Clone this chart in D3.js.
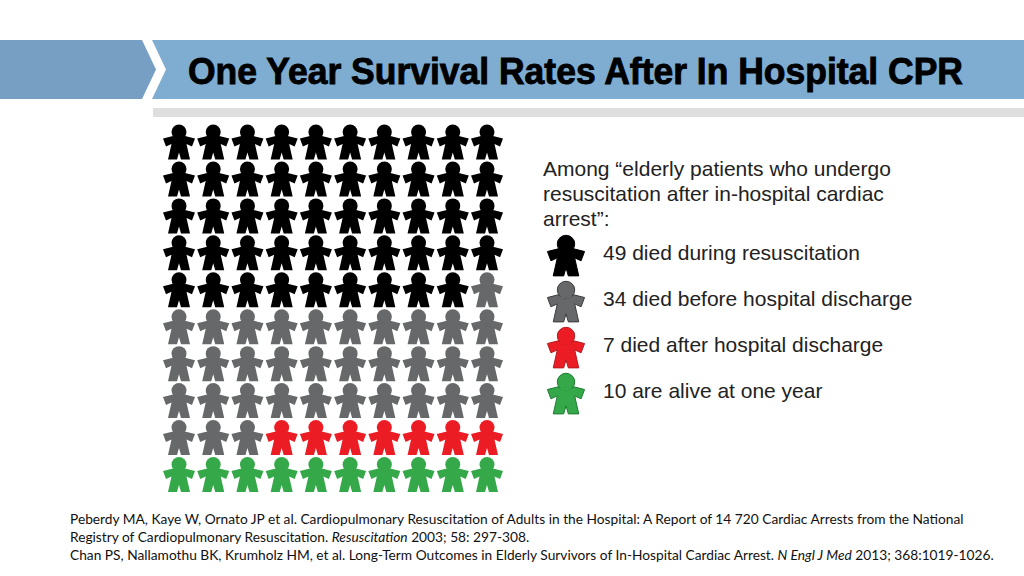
<!DOCTYPE html>
<html><head><meta charset="utf-8">
<script src="https://cdn.jsdelivr.net/npm/d3@7"></script>
<style>html,body{margin:0;padding:0;background:#fff}svg{display:block}</style></head>
<body><svg id="c" width="1024" height="576"></svg>
<script>
const titleText = "One Year Survival Rates After In Hospital CPR";
const categories = ["died during resuscitation","died before hospital discharge","died after hospital discharge","are alive at one year"];
const counts = [49,34,7,10];
const colors = ["#000000","#666869","#ec1c24","#35a84a"];
const strokes = ["#000000","#3c3c3c","#b01c20","#1f7a34"];
const introLines = ["Among “elderly patients who undergo","resuscitation after in-hospital cardiac","arrest”:"];
const footnotes = [
 [["Peberdy MA, Kaye W, Ornato JP et al. Cardiopulmonary Resuscitation of Adults in the Hospital: A Report of 14 720 Cardiac Arrests from the National",0]],
 [["Registry of Cardiopulmonary Resuscitation. ",0],["Resuscitation",1],[" 2003; 58: 297-308.",0]],
 [["Chan PS, Nallamothu BK, Krumholz HM, et al. Long-Term Outcomes in Elderly Survivors of In-Hospital Cardiac Arrest. ",0],["N Engl J Med",1],[" 2013; 368:1019-1026.",0]]
];
const figure = [[-4,-6],[4,-6],[6,-5.5],[16,-3],[13,5],[7.5,2.5],[11,18],[2,18],[0,11],[-2,18],[-11,18],[-7.5,2.5],[-13,5],[-16,-3],[-6,-5.5]];

const svg = d3.select("#c");
const poly = d3.line();
svg.append("path").attr("fill","#769fc3").attr("d",poly([[0,40],[142,40],[156,69.5],[142,99],[0,99]])+"Z");
svg.append("path").attr("fill","#7fadd2").attr("d",poly([[152,40],[1024,40],[1024,99],[152,99],[166,69.5]])+"Z");
svg.append("rect").attr("x",153).attr("y",108).attr("width",871).attr("height",9).attr("fill","#dedede");

svg.append("text").attr("x",188).attr("y",83.5)
  .attr("font-family","Liberation Sans").attr("font-weight",700).attr("font-size",37)
  .attr("textLength",775).attr("lengthAdjust","spacingAndGlyphs")
  .attr("fill","#000").attr("stroke","#000").attr("stroke-width",0.9).text(titleText);

const x = d3.scaleLinear().domain([0,9]).range([179,487]);
const y = d3.scaleLinear().domain([0,9]).range([141.5,474]);
const cells = counts.flatMap((n,c)=>d3.range(n).map(()=>c));
function person(sel,k,fill,stroke,sw){
  const gp = sel.append("g").attr("transform",`scale(${k})`);
  gp.append("path").attr("d",d3.line().curve(d3.curveLinearClosed)(figure)).attr("fill",fill).attr("stroke",stroke).attr("stroke-width",sw/k).attr("stroke-linejoin","round");
  gp.append("circle").attr("cy",-9.5).attr("r",7.5).attr("fill",fill).attr("stroke",stroke).attr("stroke-width",sw/k);
  if(sw>0) gp.append("path").attr("d",d3.line()([[-4,-5],[4,-5],[6,-2],[-6,-2]])+"Z").attr("fill",fill);
}
cells.forEach((c,i)=>{
  const g = svg.append("g").attr("transform",`translate(${x(i%10)},${y(Math.floor(i/10))})`);
  person(g,1,colors[c],colors[c],0);
});

const intro = svg.append("g").attr("font-family","Liberation Sans").attr("font-size",21).attr("fill","#222");
const iy = d3.scaleLinear().domain([0,2]).range([176,226]);
introLines.forEach((t,i)=>intro.append("text").attr("x",543).attr("y",iy(i)).text(t));

const ly = d3.scaleLinear().domain([0,3]).range([255,393]);
categories.forEach((t,i)=>{
  const g = svg.append("g").attr("transform",`translate(566,${ly(i)})`);
  person(g,1.16,colors[i],strokes[i],1);
  svg.append("text").attr("x",603).attr("y",ly(i)+5).attr("font-family","Liberation Sans").attr("font-size",21).attr("fill","#222").text(counts[i]+" "+t);
});

const fy = d3.scaleLinear().domain([0,2]).range([524,560]);
footnotes.forEach((runs,i)=>{
  const t = svg.append("text").attr("x",70).attr("y",fy(i)).attr("font-family","Lato").attr("font-size",13.74).attr("fill","#111");
  runs.forEach(([s,it])=>t.append("tspan").attr("font-style",it?"italic":"normal").text(s));
});
</script></body></html>
